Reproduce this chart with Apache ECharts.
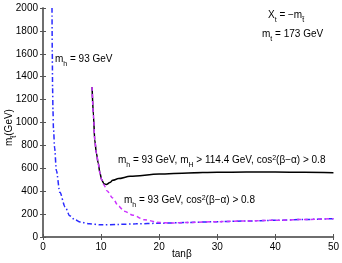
<!DOCTYPE html>
<html><head><meta charset="utf-8">
<script src="https://cdn.jsdelivr.net/npm/echarts@6/dist/echarts.min.js"></script>
<style>html,body{margin:0;padding:0;background:#fff}#c{width:342px;height:263px}</style>
</head><body><div id="c"></div>
<script>
const xTicks = [0, 10, 20, 30, 40, 50];
const yTicks = [0, 200, 400, 600, 800, 1000, 1200, 1400, 1600, 1800, 2000];
// m_h = 93 GeV (blue dash-dot)
const blueTanB = [1.55, 1.6, 1.65, 1.72, 1.8, 2.0, 2.3, 2.9, 3.8, 4.6, 5.5, 6.4, 8, 10, 13, 16, 20, 25, 30, 35, 40, 45, 50];
const blueM    = [2000, 1600, 1300, 1100, 950, 780, 580, 390, 265, 185, 150, 131, 115, 106, 110, 115, 120, 127, 134, 140, 146, 153, 160];
// m_h = 93, m_H > 114.4, cos^2 > 0.8 (black solid)
const blackTanB = [8.45, 8.7, 8.9, 9.2, 9.5, 9.8, 10.1, 10.5, 10.9, 11.5, 12, 13, 15, 20, 25, 30, 35, 40, 45, 50];
const blackM    = [1310, 1050, 850, 730, 646, 560, 500, 465, 458, 475, 495, 510, 530, 550, 560, 565, 568, 568, 565, 562];
// m_h = 93, cos^2 > 0.8 (magenta dashed)
const magTanB = [8.45, 8.7, 8.9, 9.2, 9.5, 9.8, 10.1, 10.5, 11, 12, 13, 14, 15.5, 17.5, 20, 22, 25, 30, 35, 40, 45, 50];
const magM    = [1310, 1050, 850, 730, 646, 560, 500, 455, 405, 340, 270, 225, 190, 150, 127, 122, 127, 134, 140, 146, 153, 160];

const zip = (a, b) => a.map((v, i) => [v, b[i]]);
const FONT = 'Liberation Sans, Arial, sans-serif';
const rich = {
  n: {fontSize: 10, lineHeight: 12, verticalAlign: 'top', fontFamily: FONT, color: '#000'},
  s: {fontSize: 7, lineHeight: 20, verticalAlign: 'middle', fontFamily: FONT, color: '#000'},
  p: {fontSize: 7, lineHeight: 6, verticalAlign: 'top', fontFamily: FONT, color: '#000'}
};
function label(x, y, text, extra) {
  return Object.assign({type: 'text', x: x, y: y, style: {text: text, rich: rich, fontFamily: FONT}}, extra || {});
}
const frame = {show: true, lineStyle: {color: '#666', width: 1.5}};
const tick = {inside: true, length: 3, lineStyle: {color: '#555'}};
const chart = echarts.init(document.getElementById('c'));
chart.setOption({
  animation: false,
  grid: {left: 43, right: 8, top: 8, bottom: 26},
  xAxis: [
    {type: 'value', min: 0, max: 50, interval: 10, axisLine: frame, axisTick: tick,
     axisLabel: {color: '#000', fontSize: 10, fontFamily: FONT, margin: 5,
       formatter: v => xTicks.includes(v) ? String(v) : ''},
     splitLine: {show: false}},
    {type: 'value', position: 'top', min: 0, max: 50, interval: 10, axisLine: frame, axisTick: tick,
     axisLabel: {show: false}, splitLine: {show: false}}
  ],
  yAxis: [
    {type: 'value', min: 0, max: 2000, interval: 200, axisLine: frame, axisTick: tick,
     axisLabel: {color: '#000', fontSize: 10, fontFamily: FONT, margin: 5,
       formatter: v => yTicks.includes(v) ? String(v) : ''},
     splitLine: {show: false}},
    {type: 'value', position: 'right', min: 0, max: 2000, interval: 200, axisLine: frame, axisTick: tick,
     axisLabel: {show: false}, splitLine: {show: false}}
  ],
  series: [
    {type: 'line', data: zip(blueTanB, blueM), showSymbol: false, smooth: 0.3, smoothMonotone: 'x',
     lineStyle: {color: '#2a2aff', width: 1.5, type: [5, 2.5, 1.5, 2.5]}},
    {type: 'line', data: zip(blackTanB, blackM), showSymbol: false, smooth: 0.3, smoothMonotone: 'x',
     lineStyle: {color: '#000', width: 1.5}},
    {type: 'line', data: zip(magTanB, magM), showSymbol: false, smooth: 0.3, smoothMonotone: 'x',
     lineStyle: {color: '#cc33ff', width: 1.5, type: [4, 3]}}
  ],
  graphic: [
    label(55, 54, '{n|m}{s|h}{n| = 93 GeV}'),
    label(268, 10, '{n|X}{s|t}{n| = \u2212m}{s|t\u0303}'),
    label(262, 29, '{n|m}{s|t}{n| = 173 GeV}'),
    label(118, 155, '{n|m}{s|h}{n| = 93 GeV, m}{s|H}{n| > 114.4 GeV, cos}{p|2}{n|(\u03b2\u2212\u03b1) > 0.8}'),
    label(124, 195, '{n|m}{s|h}{n| = 93 GeV, cos}{p|2}{n|(\u03b2\u2212\u03b1) > 0.8}'),
    label(172, 249, '{n|tan\u03b2}'),
    label(4, 146, '{n|m}{s|t\u0303}{n|(GeV)}', {rotation: Math.PI / 2})
  ]
});
</script></body></html>
